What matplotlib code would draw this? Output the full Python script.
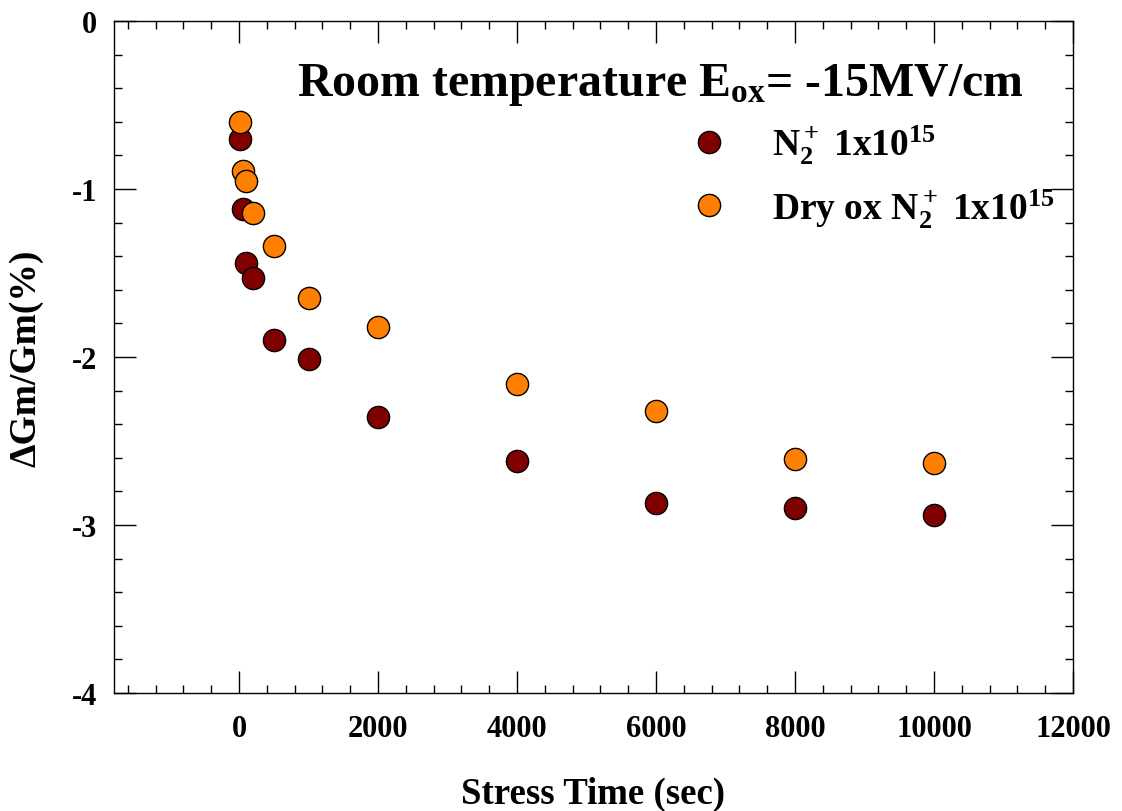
import matplotlib
matplotlib.use('Agg')
import matplotlib.pyplot as plt
from matplotlib.ticker import MultipleLocator

# Fontes estilo Times em negrito
plt.rcParams['font.family'] = ['Liberation Serif', 'DejaVu Serif']
plt.rcParams['font.weight'] = 'bold'
plt.rcParams['mathtext.fontset'] = 'custom'
plt.rcParams['mathtext.rm'] = 'Liberation Serif:bold'
plt.rcParams['mathtext.bf'] = 'Liberation Serif:bold'
plt.rcParams['mathtext.it'] = 'Liberation Serif:bold'
plt.rcParams['axes.unicode_minus'] = False

# Dados
stress_time = [10, 50, 100, 200, 500, 1000, 2000, 4000, 6000, 8000, 10000]
dgm_n2 = [-0.70, -1.12, -1.44, -1.53, -1.90, -2.01, -2.36, -2.62, -2.87, -2.90, -2.94]
dgm_dry_ox = [-0.60, -0.89, -0.95, -1.14, -1.34, -1.65, -1.82, -2.16, -2.32, -2.61, -2.63]

series = [
    ("N$_2^+$ 1x10$^{15}$", dgm_n2, '#800000'),
    ("Dry ox N$_2^+$ 1x10$^{15}$", dgm_dry_ox, '#FF8000'),
]

fig = plt.figure(figsize=(11.22, 8.12), dpi=100)
ax = fig.add_axes([0.1016, 0.1453, 0.8547, 0.8276])

for label, values, color in series:
    ax.plot(stress_time, values, linestyle='none', marker='o', markersize=16,
            markerfacecolor=color, markeredgecolor='black', markeredgewidth=1.0,
            label=label)

ax.set_xlim(-1800, 12000)
ax.set_ylim(-4, 0)
ax.xaxis.set_major_locator(MultipleLocator(2000))
ax.xaxis.set_minor_locator(MultipleLocator(400))
ax.yaxis.set_major_locator(MultipleLocator(1))
ax.yaxis.set_minor_locator(MultipleLocator(0.2))

ax.tick_params(which='both', direction='in', top=True, right=True, width=1.0,
               labelsize=22)
ax.tick_params(axis='x', which='both', pad=15)
ax.tick_params(axis='y', which='both', pad=12)
ax.tick_params(which='major', length=16)
ax.tick_params(which='minor', length=6)
for s in ax.spines.values():
    s.set_linewidth(1.0)

ax.set_xlabel('Stress Time (sec)', fontsize=26.5, fontweight='bold')
ax.set_ylabel('ΔGm/Gm(%)', fontsize=27, fontweight='bold')
ax.xaxis.set_label_coords(0.5, -0.123)
ax.yaxis.set_label_coords(-0.073, 0.5)

ax.text(0.191, 0.890, 'Room temperature E$_{\\mathrm{ox}}$= -15MV/cm',
        transform=ax.transAxes, fontsize=34.5, fontweight='bold',
        ha='left', va='baseline')

ax.legend(loc='upper left', bbox_to_anchor=(0.6005, 0.848), frameon=False,
          fontsize=27, borderpad=0, handlelength=1.0, handletextpad=1.18,
          labelspacing=0.54, borderaxespad=0)

plt.savefig('out.png', dpi=100)
plt.close(fig)
